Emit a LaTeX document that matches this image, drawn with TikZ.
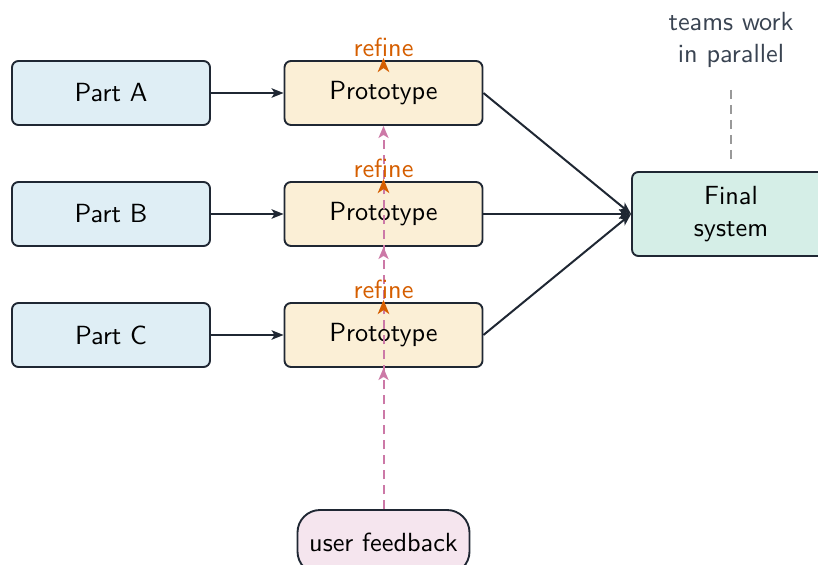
\documentclass[tikz,border=0pt]{standalone}
\usetikzlibrary{arrows.meta}
\definecolor{ink}{HTML}{1F2733}
\definecolor{note}{HTML}{3A4452}
\definecolor{partfill}{HTML}{DFEEF5}
\definecolor{protofill}{HTML}{FBEFD6}
\definecolor{finalfill}{HTML}{D5EEE7}
\definecolor{userfill}{HTML}{F5E5EE}
\definecolor{refinec}{HTML}{D55E00}
\definecolor{feedc}{HTML}{CC79A7}
\tikzset{
  box/.style={draw=ink, line width=0.75pt, rounded corners=2.6pt,
    minimum width=79.2pt, minimum height=25.6pt, align=center,
    font=\sffamily\fontsize{10.5}{12.6}\selectfont, text=black},
  partbox/.style={box, fill=partfill},
  protobox/.style={box, fill=protofill},
  finalbox/.style={box, fill=finalfill, minimum height=33.6pt},
  userbox/.style={box, fill=userfill, rounded corners=9pt, minimum width=68.8pt},
  flow/.style={draw=ink, line width=0.8pt, -{Stealth[length=4.8pt,width=3.8pt,inset=1.2pt]}},
  refinelbl/.style={text=refinec, font=\sffamily\fontsize{10.5}{12.6}\selectfont, inner sep=0.2pt},
  refinearr/.style={draw=refinec, line width=0.9pt, -{Stealth[length=5.6pt,width=4.6pt,inset=1.6pt]}},
  feed/.style={draw=feedc, line width=0.8pt, dash pattern=on 3.6pt off 2.4pt,
    -{Stealth[length=4.8pt,width=4pt,inset=1.2pt]}},
  notetext/.style={text=note, align=center, font=\sffamily\fontsize{10.5}{13}\selectfont}
}
\begin{document}
\begin{tikzpicture}[x=0.4pt, y=-0.4pt]
\useasboundingbox (0,0) rectangle (818,565);

% source parts
\node[partbox] (pa) at (111,93) {Part A};
\node[partbox] (pb) at (111,214) {Part B};
\node[partbox] (pc) at (111,335) {Part C};

% prototypes built in parallel
\node[protobox] (ra) at (383.5,93) {Prototype};
\node[protobox] (rb) at (383.5,214) {Prototype};
\node[protobox] (rc) at (383.5,335) {Prototype};

% integrated result
\node[finalbox] (fin) at (731,214) {Final\\system};

% feedback source
\node[userbox] (user) at (383.5,542) {user feedback};

% annotation
\node[notetext] (teams) at (731,40) {teams work\\in parallel};
\coordinate (tt) at (731,90);
\coordinate (tb) at (731,162);
\draw[gray!80, line width=0.7pt, dash pattern=on 3.6pt off 2.4pt] (tt) -- (tb);

% part to prototype
\draw[flow] (pa) -- (ra);
\draw[flow] (pb) -- (rb);
\draw[flow] (pc) -- (rc);

% prototypes merge
\draw[flow] (ra.east) -- (fin.west);
\draw[flow] (rb.east) -- (fin.west);
\draw[flow] (rc.east) -- (fin.west);

% user feedback into every prototype
\draw[feed] (user.north) -- (rc.south);
\draw[feed] (user.north) -- (rb.south);
\draw[feed] (user.north) -- (ra.south);

% refine loops
\foreach \p/\q in {ra/fa, rb/fb, rc/fc} {
  \node[refinelbl, anchor=south] (\q) at ([yshift=0.8pt]\p.north) {refine};
  \draw[refinearr] (\p.north) -- (\q.south);
}
\end{tikzpicture}
\end{document}
